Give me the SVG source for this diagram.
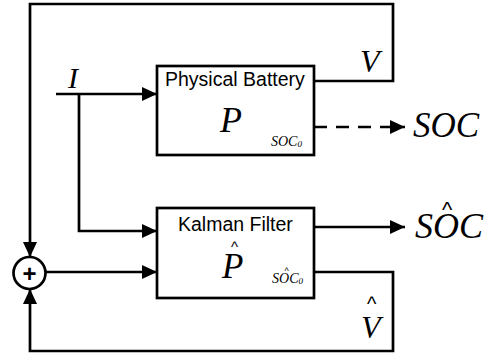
<svg xmlns="http://www.w3.org/2000/svg" width="489" height="358" viewBox="0 0 489 358">
<defs>
<marker id="ah" markerWidth="15" markerHeight="14" refX="15" refY="7" orient="auto" markerUnits="userSpaceOnUse"><path d="M0,0 L15,7 L0,14 Z" fill="#000"/></marker>
</defs>
<style>
.ln{fill:none;stroke:#000;stroke-width:2.7}
.bx{fill:#fff;stroke:#000;stroke-width:2.7}
.sans{font-family:"Liberation Sans",Arial,sans-serif;font-size:19.5px}
.it{font-family:"Liberation Serif","Times New Roman",serif;font-style:italic}
.hat{font-family:"Liberation Sans",Arial,sans-serif;font-style:normal}
</style>
<rect width="489" height="358" fill="#fff"/>
<g id="connectors">
<polyline class="ln" points="314,81 393,81 393,4 30,4 30,257" marker-end="url(#ah)"/>
<polyline class="ln" points="314,272 393,272 393,351 30,351 30,289" marker-end="url(#ah)"/>
<line class="ln" x1="56" y1="94" x2="157" y2="94" marker-end="url(#ah)"/>
<polyline class="ln" points="79,94 79,231 157,231" marker-end="url(#ah)"/>
<line class="ln" x1="45" y1="272" x2="157" y2="272" marker-end="url(#ah)"/>
<line class="ln" x1="314" y1="127" x2="405" y2="127" stroke-dasharray="13,9" marker-end="url(#ah)"/>
<line class="ln" x1="314" y1="227" x2="405" y2="227" marker-end="url(#ah)"/>
</g>
<g id="battery">
<rect class="bx" x="157" y="66" width="157" height="89"/>
<text class="sans" x="165" y="86">Physical Battery</text>
<text class="it" x="220" y="132" font-size="36">P</text>
<text class="it" x="271" y="146" font-size="14">SOC<tspan font-size="9" dy="1">0</tspan></text>
</g>
<g id="kalman">
<rect class="bx" x="157" y="208" width="157" height="90"/>
<text class="sans" x="178" y="231">Kalman Filter</text>
<text class="it" x="222" y="278" font-size="35">P<tspan class="hat" font-size="15" dx="-12.4" dy="-26">^</tspan></text>
<text class="it" x="272" y="283" font-size="14">S<tspan class="hat" font-size="9" dx="5.5" dy="-9">^</tspan><tspan dx="-9.7" dy="9">OC</tspan><tspan font-size="9" dy="1">0</tspan></text>
</g>
<g id="sum">
<circle cx="29.5" cy="273" r="16" fill="#fff" stroke="#000" stroke-width="2.7"/>
<text x="29.5" y="281.5" font-family="Liberation Sans, Arial, sans-serif" font-size="24" font-weight="bold" text-anchor="middle">+</text>
</g>
<g id="labels">
<text class="it" x="68" y="88" font-size="30">I</text>
<text class="it" x="360" y="72" font-size="32">V</text>
<text class="it" x="361" y="338" font-size="32">V<tspan class="hat" font-size="20" dx="-13.6" dy="-27">^</tspan></text>
<text class="it" x="413" y="137" font-size="35">SOC</text>
<text class="it" x="415" y="238" font-size="36">S<tspan class="hat" font-size="22" dx="9" dy="-21">^</tspan><tspan dx="-19.3" dy="21">OC</tspan></text>
</g>
</svg>
